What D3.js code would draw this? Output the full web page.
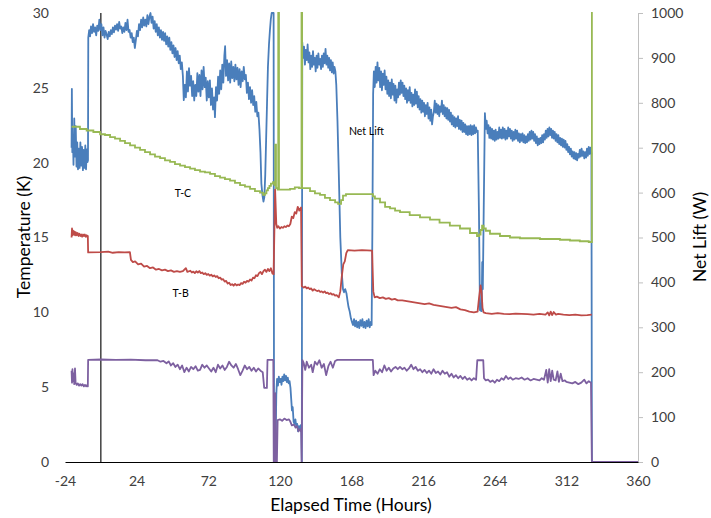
<!DOCTYPE html>
<html><head><meta charset="utf-8">
<script src="https://cdn.jsdelivr.net/npm/d3@7"></script>
<style>
html,body{margin:0;padding:0;background:#fff;}
svg{display:block;font-family:Lato,"Open Sans",sans-serif;}
</style></head>
<body><svg id="c" width="711" height="518"></svg>
<script>
// ---- Data (hours, value) ----
const xTicks = [-24,24,72,120,168,216,264,312,360];
const yTicks = [0,5,10,15,20,25,30];
const y2Ticks = [0,100,200,300,400,500,600,700,800,900,1000];
const markerHour = 0;

// Net Lift (W) - right axis
const netLift = [
[-19.6,700],[-19.4,831],[-19.1,690],[-18.7,725],[-18.3,662],[-17.8,765],[-17.3,680],[-16.8,748],[-16.3,658],[-15.8,712],[-15.3,652],[-14.8,698],[-14.2,655],[-13.7,712],[-13.1,660],[-12.6,702],[-12.0,650],[-11.5,695],[-11.0,655],[-10.4,705],[-9.9,652],[-9.4,696],[-8.9,668],[-8.6,672],
[-8.4,945],[-7.8,962],[-7.2,948],[-6.6,970],[-5.9,955],[-5.2,975],[-4.5,958],[-3.8,968],[-3.1,950],[-2.4,972],[-1.7,960],[-1,985],[-0.3,962],[0.4,975],[1.1,950],[1.8,968],[2.5,945],[3.2,960],[3.9,952],[4.6,942],[5.3,958],[6,948],[6.7,962],[7.4,953],[8.1,968],[8.8,957],[9.5,972],[10.2,963],[10.9,975],[11.6,960],[12.3,980],[13,965],[13.7,970],[14.4,955],[15.1,968],[15.8,958],[16.5,978],[17.2,962],[17.9,985],[18.6,958],[19.3,962],[20,945],[20.7,955],[21.4,935],[22.1,945],[22.8,922],[23.5,940],[24.2,960],[24.9,948],[25.6,975],[26.3,962],[27,985],[27.7,968],[28.4,990],[29.1,972],[29.8,985],[30.5,970],[31.2,995],[31.9,975],[32.6,992],[33.3,1000],[34,978],[34.7,992],[35.4,965],[36.1,982],[36.8,958],[37.5,975],[38.2,950],[38.9,968],[39.6,945],[40.3,962],[41,940],[41.7,958],[42.4,938],[43.1,955],[43.8,930],[44.5,948],[45.2,925],[45.9,945],[46.6,918],[47.3,935],[48,910],[48.7,928],[49.4,902],[50.1,922],[50.8,895],[51.5,915],[52.2,888],[52.9,905],[53.6,875],[54.3,890],[55.0,860],
[55.6,806],[56.3,840],[57.0,812],[57.7,870],[58.4,825],[59.1,877],[59.8,838],[60.5,860],[61.2,815],[61.9,848],[62.6,805],[63.3,840],[64.0,815],[64.7,866],[65.4,825],[66.1,862],[66.8,815],[67.5,872],[68.2,830],[68.9,880],[69.6,835],[70.3,856],[71.0,805],[71.7,848],[72.4,812],[73.1,850],[73.8,795],[74.5,832],[75.2,785],[75.9,812],[76.5,768],[77.2,835],[77.9,805],[78.6,858],[79.3,820],[80.0,872],[80.7,830],[81.4,885],[82.1,845],[82.8,905],[83.3,926],[83.9,860],[84.6,895],[85.3,850],[86.0,888],[86.7,845],[87.4,892],[88.1,855],[88.8,880],[89.5,848],[90.2,885],[90.9,852],[91.6,878],[92.3,840],[93.0,875],[93.7,835],[94.4,870],[95.1,848],[95.8,880],[96.5,852],[97.2,862],[97.9,822],[98.6,845],[99.3,808],[100.0,835],[100.7,800],[101.4,828],[102.1,795],[102.8,815],[103.5,780],[104.2,802],[104.9,770],[105.6,778],[106.3,742],[107.0,690],[107.6,620],[108.3,595],[109.0,580],[109.6,590],[110.2,640],[110.8,720],[111.4,800],[112.0,880],[112.7,930],[113.3,960],[113.9,985],[114.5,1000],[115.8,1000],
[116.1,0],[117.0,0],[117.6,150],[118.1,185],[118.7,170],[119.3,190],[119.9,178],[120.5,185],[121.1,172],[121.7,190],[122.3,180],[122.9,195],[123.5,182],[124.1,192],[124.7,178],[125.3,188],[125.9,175],[126.5,180],[127.1,165],[127.6,140],[128.1,115],[128.6,122],[129.2,90],[129.8,85],[130.4,95],[131.0,78],[131.6,85],[132.2,68],[132.8,80],[133.4,72],[134.0,82],[134.4,75],[134.7,0],
[135.0,935],[135.6,900],[136.2,925],[136.8,885],[137.4,918],[138.0,895],[138.6,930],[139.2,890],[139.8,912],[140.4,875],[141.0,905],[141.6,880],[142.2,915],[142.8,885],[143.4,900],[144.0,870],[144.6,905],[145.2,878],[145.8,910],[146.4,885],[147.0,898],[147.6,875],[148.2,905],[148.8,880],[149.4,910],[150.0,888],[150.6,920],[151.2,885],[151.8,905],[152.4,878],[153.0,900],[153.6,872],[154.2,895],[154.8,868],[155.4,890],[156.0,865],[156.6,880],[157.2,870],[157.8,840],[158.6,760],[159.5,640],[160.5,500],[161.5,420],[162.3,385],[163.0,378],[163.8,385],[164.6,376],[165.3,360],[166.0,345],[166.8,335],[167.6,320],[168.3,312],[169.0,305],[169.7,318],[170.4,302],[171.1,315],[171.8,300],[172.5,312],[173.2,298],[173.9,316],[174.6,303],[175.3,318],[176.0,300],[176.7,312],[177.4,298],[178.1,315],[178.8,302],[179.5,318],[180.2,300],[180.9,312],[181.5,305],[182.0,520],[182.5,820],[183.0,870],
[183.6,835],[184.2,880],[184.8,845],[185.4,890],[186.0,850],[186.6,878],[187.2,835],[187.8,870],[188.4,828],[189.0,865],[189.6,840],[190.2,872],[190.8,830],[191.4,858],[192.0,820],[192.6,850],[193.2,815],[193.8,845],[194.4,810],[195.0,852],[195.6,818],[196.2,842],[196.8,805],[197.4,838],[198.0,800],[198.6,830],[199.2,812],[199.8,845],[200.4,818],[201.0,850],[201.6,822],[202.2,845],[202.8,815],[203.4,838],[204.0,808],[204.6,832],[205.2,800],[205.8,828],[206.4,805],[207.0,835],[207.6,800],[208.2,822],[208.8,792],[209.4,818],[210.0,795],[210.6,830],[211.2,798],[211.8,825],[212.4,790],[213.0,815],[213.6,785],[214.2,808],[214.8,778],[215.4,805],[216.0,780],[216.6,800],[217.2,770],[217.8,795],[218.4,775],[219.0,800],[219.6,765],[220.2,790],[220.8,760],[221.4,785],[222.0,752],[222.6,770],[223.2,780],[223.8,805],[224.4,778],[225.0,798],[225.6,775],[226.2,795],[226.8,770],[227.4,792],[228.0,780],[228.6,805],[229.2,775],[229.8,795],[230.4,770],[231.0,790],[231.6,765],[232.2,788],[232.8,762],[233.4,784],[234.0,758],[234.6,778],[235.2,752],[235.8,772],[236.4,748],[237.0,768],[237.6,745],[238.2,765],[238.8,748],[239.4,770],[240.0,742],[240.6,762],[241.2,740],[241.8,760],[242.4,735],[243.0,755],[243.6,735],[244.2,752],[244.8,730],[245.4,748],[246.0,728],[246.6,748],[247.2,730],[247.8,750],[248.4,728],[249.0,748],[249.6,730],[250.2,750],[250.8,732],[251.4,745],[252.0,735],[252.6,738],[253.4,560],[254.1,338],[255.2,336],[255.6,445],[256.0,385],[256.6,560],[257.4,777],
[258.0,742],[258.6,760],[259.2,732],[259.8,750],[260.4,722],[261.0,745],[261.6,720],[262.2,742],[262.8,718],[263.4,738],[264.0,715],[264.6,740],[265.2,718],[265.8,735],[266.4,720],[267.0,745],[267.6,722],[268.2,740],[268.8,720],[269.4,745],[270.0,722],[270.6,742],[271.2,718],[271.8,738],[272.4,720],[273.0,745],[273.6,725],[274.2,742],[274.8,720],[275.4,738],[276.0,715],[276.6,735],[277.2,718],[277.8,740],[278.4,720],[279.0,738],[279.6,715],[280.2,732],[280.8,712],[281.4,730],[282.0,715],[282.6,732],[283.2,712],[283.8,728],[284.4,710],[285.0,725],[285.6,712],[286.2,730],[286.8,715],[287.4,735],[288.0,718],[288.6,738],[289.2,720],[289.8,735],[290.4,715],[291.0,730],[291.6,710],[292.2,725],[292.8,705],[293.4,720],[294.0,708],[294.6,722],[295.2,710],[295.8,728],[296.4,712],[297.0,730],[297.6,718],[298.2,738],[298.8,722],[299.4,742],[300.0,725],[300.6,745],[301.2,728],[301.8,742],[302.4,722],[303.0,738],[303.6,720],[304.2,735],[304.8,715],[305.4,730],[306.0,712],[306.6,728],[307.2,708],[307.8,722],[308.4,705],[309.0,720],[309.6,702],[310.2,718],[310.8,700],[311.4,715],[312.0,695],[312.6,708],[313.2,690],[313.8,702],[314.4,685],[315.0,698],[315.6,680],[316.2,692],[316.8,676],[317.4,690],[318.0,674],[318.6,688],[319.2,672],[319.8,686],[320.4,678],[321.0,695],[321.6,680],[322.2,698],[322.8,682],[323.4,692],[324.0,676],[324.6,690],[325.2,678],[325.8,698],[326.4,682],[327.0,702],[327.6,686],[328.2,700],[328.8,688],[329.1,0],[360,0]
];

// T-C (K)
const tempC = [
[-19.6,22.4],[-14,22.25],[-9.5,22.15],[-5,22.05],[-0.5,21.9],[2.8,21.85],[6.2,21.7],[9.5,21.6],[12.9,21.45],[16.2,21.3],[19.6,21.15],[22.9,21.0],[26.3,20.85],[29.6,20.7],[33,20.55],[36.3,20.4],[39.7,20.3],[43,20.15],[46.4,20.05],[49.7,19.9],[53.1,19.8],[56.4,19.7],[59.8,19.6],[63.1,19.5],[66.5,19.4],[69.8,19.35],[73.2,19.25],[76.5,19.1],[79.9,19.0],[83.2,18.9],[86.6,18.8],[89.9,18.65],[93.3,18.5],[96.6,18.4],[100,18.25],[103.3,18.1],[106.7,18.0],[108.7,17.85],[110,17.95],[111,18.15],[112,18.3],[113,18.45],[114,18.6],[115.4,18.7],[116.4,18.5],[116.9,21.2],[117.4,18.3],[118.5,18.2],[118.9,31],[119.4,18.2],[124,18.2],[126.8,18.25],[130,18.35],[132.8,18.3],[134.5,31],[134.9,18.3],[136.8,18.3],[140.2,18.1],[143.5,17.95],[146.9,17.85],[150.2,17.65],[153.6,17.5],[157,17.35],[159,17.25],[161,17.5],[162.3,17.8],[164.3,17.9],[182.4,17.75],[183.7,17.6],[187.1,17.35],[190.5,17.05],[193.8,16.95],[197.2,16.8],[200.5,16.7],[207,16.5],[213.9,16.35],[220.6,16.2],[227,16.0],[233.9,15.8],[240.7,15.6],[247.4,15.3],[252.1,15.1],[253.5,15.2],[254.5,15.5],[255.5,15.8],[256.5,15.6],[258,15.45],[260.8,15.25],[267.5,15.1],[274.2,15.0],[280.9,14.95],[287.6,14.95],[294.3,14.9],[301,14.9],[307.7,14.85],[314.4,14.8],[321,14.75],[327,14.7],[329.1,31]
];

// T-B (K)
const tempB = [
[-19.6,15.0],[-19.3,15.6],[-19.0,15.15],[-18.6,15.45],[-18.2,15.2],[-17.7,15.4],[-17.2,15.15],[-16.7,15.35],[-16.1,15.15],[-15.5,15.3],[-14.9,15.1],[-14.3,15.25],[-13.7,15.1],[-13.1,15.2],[-12.5,15.05],[-11.9,15.2],[-11.3,15.1],[-10.7,15.2],[-10.1,15.05],[-9.5,15.15],[-9.0,15.05],[-8.7,15.1],[-8.5,14.0],[0,14.02],[5,14.05],[8,13.98],[12,14.02],[16,14.0],[19.5,14.02],[20.2,13.5],[21.5,13.35],[23,13.4],[25,13.2],[27,13.25],[29,13.05],[31,13.1],[33,12.95],[35,13.0],[37,12.85],[39,12.9],[41,12.8],[43,12.85],[45,12.75],[47,12.8],[49,12.7],[51,12.75],[53,12.7],[55,12.75],[57,12.95],[58,12.7],[60,12.78],[61,12.66],[62,12.72],[63,12.62],[64,12.74],[65,12.66],[66,12.76],[67,12.62],[68,12.66],[69,12.55],[70,12.62],[71,12.5],[72,12.56],[73,12.45],[74,12.52],[75,12.4],[76,12.47],[77,12.36],[78,12.42],[79,12.28],[80,12.32],[81,12.18],[82,12.22],[83,12.05],[84,12.1],[85,11.92],[86,11.98],[87,11.82],[88,11.88],[89,11.78],[90,11.9],[91,11.8],[92,11.86],[93,11.82],[94,11.95],[95,11.9],[96,12.04],[97,11.98],[98,12.1],[99,12.05],[100,12.2],[101,12.12],[102,12.32],[103,12.28],[104,12.48],[105,12.42],[106,12.62],[107,12.7],[108,12.55],[109,12.75],[110,12.85],[111,12.7],[112,12.9],[113,12.75],[114,12.95],[115,12.6],[115.8,12.55],[116.8,18.2],[117.6,15.9],[118.2,15.65],[119,15.75],[120,15.6],[121,15.7],[122,15.65],[123,15.75],[124,15.7],[125,15.8],[126,15.75],[127,15.9],[128,16.4],[129,16.3],[130,16.7],[131,16.6],[132,17.05],[133,16.8],[134.2,17.0],[134.7,11.75],[136,11.65],[137,11.72],[138,11.6],[139,11.66],[140,11.55],[141,11.6],[142,11.45],[143,11.55],[144,11.48],[145,11.42],[146,11.46],[147,11.36],[148,11.4],[149,11.32],[150,11.4],[151,11.28],[152,11.32],[153,11.22],[154,11.28],[155,11.18],[156,11.22],[157,11.12],[158,11.15],[159.5,11.0],[160.5,11.4],[161.5,12.4],[162.5,13.2],[163.5,13.4],[164.5,13.95],[165.5,14.15],[170,14.12],[175,14.15],[181.8,14.12],[182.6,11.4],[183.5,11.0],[185,11.05],[187,10.95],[189,11.0],[191,10.9],[193,10.95],[195,10.85],[197,10.9],[199,10.8],[202,10.8],[205,10.75],[208,10.7],[211,10.65],[214,10.6],[217,10.55],[220,10.6],[223,10.5],[226,10.45],[229,10.4],[232,10.35],[235,10.3],[238,10.35],[241,10.2],[244,10.15],[247,10.05],[250,10.0],[252.5,10.05],[253.5,11.0],[254.5,11.8],[255.2,11.3],[255.8,10.3],[256.5,10.0],[258,9.95],[262,9.9],[266,9.95],[270,9.9],[274,9.88],[278,9.92],[282,9.9],[286,9.88],[290,9.85],[294,9.9],[298,9.85],[299.5,10.0],[300.5,9.8],[301.5,10.05],[302.5,9.82],[303.5,10.02],[305,9.85],[306.5,9.9],[310,9.85],[314,9.82],[318,9.85],[322,9.8],[326,9.82],[329,9.85]
];

// Fourth trace (K), unlabeled purple
const tempA = [
[-19.6,6.1],[-19.3,5.3],[-19.0,6.2],[-18.6,5.4],[-18.2,5.9],[-17.8,5.2],[-17.3,6.25],[-16.9,5.3],[-16.2,5.15],[-15.4,5.25],[-14.6,5.1],[-13.8,5.2],[-13.0,5.1],[-12.2,5.2],[-11.4,5.05],[-10.6,5.15],[-9.8,5.05],[-9.0,5.15],[-8.7,5.05],[-8.5,6.82],[0,6.85],[10,6.82],[20,6.84],[30,6.8],[38,6.8],[40,6.7],[42,6.75],[44,6.6],[45.5,6.72],[47,6.45],[48.5,6.6],[50,6.35],[51.5,6.5],[53,6.2],[54.5,6.45],[56,6.0],[57.5,6.3],[59,6.05],[60.5,6.35],[62,6.2],[63.5,6.4],[65,6.1],[66.5,6.15],[68,6.5],[69.5,6.3],[71,6.45],[72.5,6.25],[74,6.05],[75.5,6.3],[77,6.0],[78.5,6.5],[80,6.25],[81.5,6.45],[83,6.15],[84.5,6.35],[86,6.7],[87.5,6.45],[89,6.3],[90.5,6.55],[92,6.2],[93.5,5.8],[95,6.1],[96.5,6.45],[98,6.2],[99.5,6.35],[101,6.1],[102.5,6.3],[104,6.05],[105.5,6.25],[107,6.1],[108.5,6.0],[109.5,4.95],[111.3,4.95],[111.7,6.82],[115.6,6.82],[115.9,0],[116.5,0],[116.9,4.6],[117.3,0],[118.0,0],[118.5,2.8],[120,2.85],[121.5,2.75],[123,2.9],[124.5,2.8],[126,2.85],[127,2.7],[128,2.45],[129.5,2.5],[130.5,2.3],[131.5,2.4],[132.5,2.05],[133.5,2.2],[134.3,2.0],[134.6,0],[135.1,6.8],[136,6.6],[137,6.15],[138,6.7],[139.5,6.3],[141,6.5],[142,6.0],[143.5,6.7],[145,6.5],[146.5,6.8],[148,6.3],[149.5,6.55],[151,5.8],[152.5,6.4],[154,6.7],[155.5,6.3],[157,6.75],[158.5,6.82],[182.3,6.82],[182.8,5.8],[184,6.1],[185.5,5.9],[187,6.2],[188.5,6.0],[190,6.45],[191.5,6.1],[193,6.3],[194.5,6.05],[196,6.25],[197.5,6.35],[199,6.2],[200.5,6.35],[202,6.2],[203.5,6.3],[205,6.1],[206.5,6.25],[208,6.5],[209.5,6.2],[211,6.35],[212.5,6.1],[214,6.2],[215.5,6.0],[217,6.15],[218.5,5.95],[220,6.1],[221.5,5.9],[223,6.2],[224.5,5.95],[226,6.05],[227.5,5.85],[229,6.1],[230.5,5.9],[232,6.0],[233.5,5.7],[235,5.9],[236.5,5.65],[238,5.8],[239.5,5.6],[241,5.75],[242.5,5.55],[244,5.7],[245.5,5.5],[247,5.6],[248.5,5.45],[250,5.6],[251.5,5.5],[252.3,6.8],[256.3,6.8],[256.8,5.6],[258,5.45],[259.5,5.5],[261,5.35],[262.5,5.45],[264,5.3],[265.5,5.5],[267,5.4],[268.5,5.6],[270,5.5],[271.5,5.75],[273,5.55],[274.5,5.65],[276,5.5],[278,5.6],[280,5.55],[282,5.65],[284,5.5],[286,5.6],[288,5.45],[290,5.55],[292,5.5],[294,5.45],[295.5,5.6],[297,5.5],[298.5,6.15],[299.5,5.3],[300.5,6.2],[301.5,5.4],[302.5,6.1],[303.5,5.5],[304.8,5.45],[306,6.05],[307,5.35],[308.2,5.9],[309.4,5.4],[311,5.45],[312,5.35],[314,5.3],[316,5.25],[318,5.35],[320,5.2],[322,5.3],[324,5.5],[325.5,5.25],[327,5.4],[328.5,5.3],[329.1,0],[360,0]
];

const labels = [
  {text:"T-C", h:55, v:17.7, axis:"left"},
  {text:"T-B", h:53.5, v:11.0, axis:"left"},
  {text:"Net Lift", h:178, v:728, axis:"right"}
];

// ---- Chart ----
const svg = d3.select("#c");
const L = 65, R = 638, T = 13, B = 462;
const x = d3.scaleLinear().domain([-24,360]).range([L,R]);
const y = d3.scaleLinear().domain([0,30]).range([B,T]);
const y2 = d3.scaleLinear().domain([0,1000]).range([B,T]);
const fmt = d => String(d);
const tickFont = "Lato,'Open Sans',sans-serif";

svg.append("rect").attr("width",711).attr("height",518).attr("fill","#fff");

svg.append("defs").append("clipPath").attr("id","clip")
  .append("rect").attr("x",L).attr("y",T-1).attr("width",R-L).attr("height",B-T+3);

// right axis
const ra = svg.append("g").attr("transform",`translate(${R},0)`)
  .call(d3.axisRight(y2).tickValues(y2Ticks).tickSize(5).tickPadding(8).tickFormat(fmt));
ra.select(".domain").attr("stroke","#bfbfbf").attr("stroke-width",1);
ra.selectAll(".tick line").attr("stroke","#bfbfbf");
ra.selectAll("text").attr("font-size",14).attr("fill","#404040").attr("font-family",tickFont);

// left axis
const la = svg.append("g").attr("transform",`translate(${L},0)`)
  .call(d3.axisLeft(y).tickValues(yTicks).tickSize(0).tickPadding(16).tickFormat(fmt));
la.select(".domain").remove();
la.selectAll("text").attr("font-size",14).attr("fill","#404040").attr("font-family",tickFont);

// marker line
svg.append("line").attr("x1",x(markerHour)).attr("x2",x(markerHour)).attr("y1",y(30)).attr("y2",y(0))
  .attr("stroke","#404040").attr("stroke-width",1.5);

const g = svg.append("g").attr("clip-path","url(#clip)");
const lineR = d3.line().x(d=>x(d[0])).y(d=>y2(d[1]));
const lineL = d3.line().x(d=>x(d[0])).y(d=>y(d[1]));
const lineStep = d3.line().x(d=>x(d[0])).y(d=>y(d[1])).curve(d3.curveStepAfter);

g.append("path").datum(netLift).attr("d",lineR).attr("fill","none").attr("stroke","#4A7EBB").attr("stroke-width",1.8).attr("stroke-linejoin","round");
g.append("path").datum(tempC).attr("d",lineStep).attr("fill","none").attr("stroke","#98B954").attr("stroke-width",1.8);
g.append("path").datum(tempB).attr("d",lineL).attr("fill","none").attr("stroke","#BE4B48").attr("stroke-width",1.8).attr("stroke-linejoin","round");
g.append("path").datum(tempA).attr("d",lineL).attr("fill","none").attr("stroke","#7D60A0").attr("stroke-width",1.8).attr("stroke-linejoin","round");

// bottom axis
const ba = svg.append("g").attr("transform",`translate(0,${B})`)
  .call(d3.axisBottom(x).tickValues(xTicks).tickSize(0).tickPadding(14).tickFormat(fmt));
ba.select(".domain").attr("stroke","#000").attr("stroke-width",1.2);
ba.selectAll("text").attr("font-size",14).attr("fill","#404040").attr("font-family",tickFont);

// series labels
labels.forEach(l=>{
  const yy = l.axis==="left" ? y(l.v) : y2(l.v);
  svg.append("text").attr("x",x(l.h)).attr("y",yy).attr("text-anchor","middle")
    .attr("font-size",10.5).attr("fill","#000").text(l.text);
});

// axis titles
svg.append("text").attr("transform","translate(30,237) rotate(-90)").attr("text-anchor","middle")
  .attr("font-size",17.5).attr("fill","#000").text("Temperature (K)");
svg.append("text").attr("transform","translate(706,237) rotate(-90)").attr("text-anchor","middle")
  .attr("font-size",17.5).attr("fill","#000").text("Net Lift (W)");
svg.append("text").attr("x",351).attr("y",511).attr("text-anchor","middle")
  .attr("font-size",17.5).attr("fill","#000").text("Elapsed Time (Hours)");
</script>
</body></html>
